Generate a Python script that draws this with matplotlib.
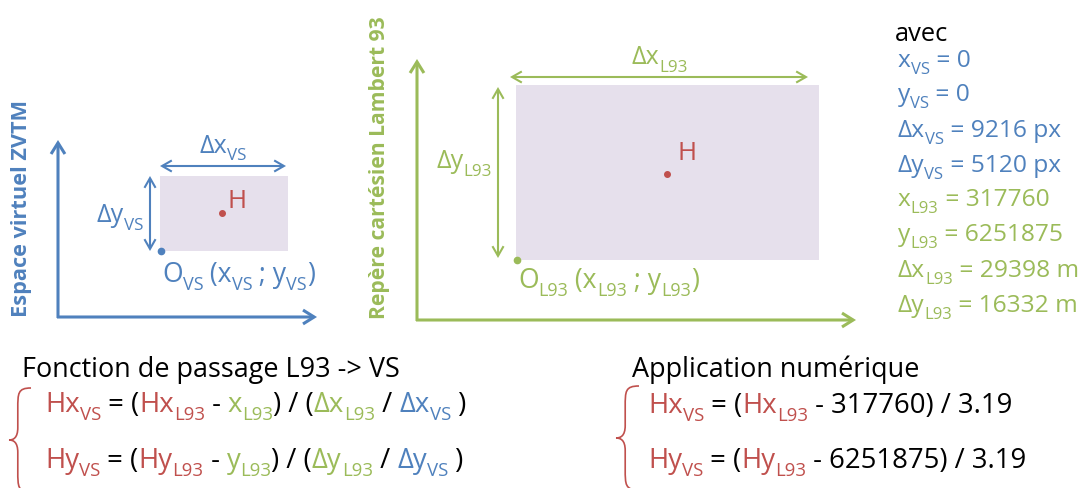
import matplotlib
matplotlib.use('Agg')
import matplotlib.pyplot as plt
from matplotlib.patches import FancyArrowPatch, Rectangle, PathPatch
from matplotlib.path import Path

# ---------------- data ----------------
vs_names = ['x', 'y', 'Δx', 'Δy']
vs_values = ['0', '0', '9216 px', '5120 px']
l93_names = ['x', 'y', 'Δx', 'Δy']
l93_values = ['317760', '6251875', '29398 m', '16332 m']
x_l93_origin = '317760'
y_l93_origin = '6251875'
scale_factor = '3.19'
vs_axis_title = 'Espace virtuel ZVTM'
l93_axis_title = 'Repère cartésien Lambert 93'
formula_title = 'Fonction de passage L93 -> VS'
numeric_title = 'Application numérique'

# ---------------- style ----------------
W, H = 1091, 489
FAM = ['Open Sans', 'DejaVu Sans']
BLUE = '#4F81BD'
GREEN = '#9BBB59'
RED = '#C0504D'
BLACK = '#000000'
FILL = '#E6E0EC'

fig = plt.figure(figsize=(W / 100, H / 100), dpi=100)
ax = fig.add_axes([0, 0, 1, 1])
ax.set_xlim(0, W)
ax.set_ylim(H, 0)
ax.axis('off')
renderer = fig.canvas.get_renderer()


def pt(p):
    return p * 0.72


def width_of(s, size, weight='normal'):
    t = ax.text(0, 0, '|' + s + '|', fontsize=size, family=FAM, fontweight=weight)
    w1 = t.get_window_extent(renderer).width
    t.set_text('||')
    w2 = t.get_window_extent(renderer).width
    t.remove()
    return w1 - w2


SUBR = 0.68
SUBOFF = 0.30


def rich_width(segs, fs):
    w = 0
    for s, c, sub in segs:
        w += width_of(s, pt(fs * SUBR if sub else fs))
    return w


def rich(x, y, segs, fs, ha='left'):
    if ha == 'center':
        x -= rich_width(segs, fs) / 2
    elif ha == 'right':
        x -= rich_width(segs, fs)
    for s, c, sub in segs:
        size = pt(fs * SUBR if sub else fs)
        yy = y + (fs * SUBOFF if sub else 0)
        ax.text(x, yy, s, color=c, fontsize=size, family=FAM, va='baseline', ha='left')
        x += width_of(s, size)
    return x


def arrow(p0, p1, color, style, lw, hl, hw):
    a = FancyArrowPatch(p0, p1, arrowstyle=f'{style},head_length={hl},head_width={hw}',
                        color=color, lw=lw, shrinkA=0, shrinkB=0, capstyle='butt',
                        joinstyle='miter')
    ax.add_patch(a)


def brace(xr, y0, y1, w, color):
    h = y1 - y0
    yc = (y0 + y1) / 2
    xm = xr - w * 0.6
    xt = xr - w
    verts = [(xr, y0),
             (xm, y0), (xm, y0 + 0.05 * h), (xm, y0 + 0.2 * h),
             (xm, yc - 0.12 * h),
             (xm, yc - 0.02 * h), (xt + 0.2 * w, yc), (xt, yc),
             (xt + 0.2 * w, yc), (xm, yc + 0.02 * h), (xm, yc + 0.12 * h),
             (xm, y1 - 0.2 * h),
             (xm, y1 - 0.05 * h), (xm, y1), (xr, y1)]
    codes = [Path.MOVETO,
             Path.CURVE4, Path.CURVE4, Path.CURVE4,
             Path.LINETO,
             Path.CURVE4, Path.CURVE4, Path.CURVE4,
             Path.CURVE4, Path.CURVE4, Path.CURVE4,
             Path.LINETO,
             Path.CURVE4, Path.CURVE4, Path.CURVE4]
    ax.add_patch(PathPatch(Path(verts, codes), fill=False, edgecolor=color, lw=1.2))


# ---------------- left diagram (VS) ----------------
ax.add_patch(Rectangle((160, 177), 128, 75, facecolor=FILL, edgecolor='none'))
arrow((58, 319), (58, 141), BLUE, '->', 2.2, 8, 5)
arrow((57, 318), (317, 318), BLUE, '->', 2.2, 8, 5)
arrow((160, 167), (286, 167), BLUE, '<->', 1.5, 7, 4)
arrow((150, 177), (150, 252), BLUE, '<->', 1.5, 7, 4)
ax.plot([161], [252], 'o', color=BLUE, ms=4.5)
ax.plot([222], [214], 'o', color=RED, ms=4)
ax.text(22, 208, vs_axis_title, rotation=90, ha='center', va='center',
        fontweight='bold', color=BLUE, fontsize=pt(21.8), family=FAM)
rich(223, 153, [('Δx', BLUE, False), ('VS', BLUE, True)], 25, ha='center')
rich(143, 222, [('Δy', BLUE, False), ('VS', BLUE, True)], 25, ha='right')
rich(228, 208, [('H', RED, False)], 26)
rich(162, 282, [('O', BLUE, False), ('VS', BLUE, True), (' (x', BLUE, False), ('VS', BLUE, True),
                (' ; y', BLUE, False), ('VS', BLUE, True), (')', BLUE, False)], 26.5)

# ---------------- right diagram (L93) ----------------
ax.add_patch(Rectangle((516, 86), 303, 175, facecolor=FILL, edgecolor='none'))
arrow((417, 322), (417, 60), GREEN, '->', 2.2, 8, 5)
arrow((416, 321), (856, 321), GREEN, '->', 2.2, 8, 5)
arrow((510, 78), (808, 78), GREEN, '<->', 1.5, 7, 4)
arrow((498, 88), (498, 259), GREEN, '<->', 1.5, 7, 4)
ax.plot([517], [261], 'o', color=GREEN, ms=4.5)
ax.plot([667], [175], 'o', color=RED, ms=4)
ax.text(380, 168, l93_axis_title, rotation=90, ha='center', va='center',
        fontweight='bold', color=GREEN, fontsize=pt(21.2), family=FAM)
rich(660, 64, [('Δx', GREEN, False), ('L93', GREEN, True)], 25, ha='center')
rich(492, 168, [('Δy', GREEN, False), ('L93', GREEN, True)], 25, ha='right')
rich(677, 160, [('H', RED, False)], 26)
rich(518, 288, [('O', GREEN, False), ('L93', GREEN, True), (' (x', GREEN, False), ('L93', GREEN, True),
                (' ; y', GREEN, False), ('L93', GREEN, True), (')', GREEN, False)], 26.5)

# ---------------- right list ----------------
ax.text(895, 41, 'avec', color=BLACK, fontsize=pt(25.5), family=FAM, va='baseline')
list_baselines = [67, 101, 137, 172, 206, 241, 277, 312]
rows = [(n, 'VS', v, BLUE) for n, v in zip(vs_names, vs_values)] + \
       [(n, 'L93', v, GREEN) for n, v in zip(l93_names, l93_values)]
for yb, (n, sub, v, c) in zip(list_baselines, rows):
    rich(898, yb, [(n, c, False), (sub, c, True), (' = ' + v, c, False)], 24.5)

# ---------------- bottom formulas ----------------
ax.text(22, 377, formula_title, color=BLACK, fontsize=pt(27), family=FAM, va='baseline')
brace(31, 389, 493, 22, RED)
rich(45, 412, [('Hx', RED, False), ('VS', RED, True), (' = (', BLACK, False),
               ('Hx', RED, False), ('L93', RED, True), (' - ', BLACK, False),
               ('x', GREEN, False), ('L93', GREEN, True), (') / (', BLACK, False),
               ('Δx', GREEN, False), ('L93', GREEN, True), (' / ', BLACK, False),
               ('Δx', BLUE, False), ('VS', BLUE, True), (' )', BLACK, False)], 27.5)
rich(45, 468, [('Hy', RED, False), ('VS', RED, True), (' = (', BLACK, False),
               ('Hy', RED, False), ('L93', RED, True), (' - ', BLACK, False),
               ('y', GREEN, False), ('L93', GREEN, True), (') / (', BLACK, False),
               ('Δy', GREEN, False), ('L93', GREEN, True), (' / ', BLACK, False),
               ('Δy', BLUE, False), ('VS', BLUE, True), (' )', BLACK, False)], 27.5)

ax.text(632, 377, numeric_title, color=BLACK, fontsize=pt(27), family=FAM, va='baseline')
brace(639, 387, 491, 23, RED)
rich(648, 413, [('Hx', RED, False), ('VS', RED, True), (' = (', BLACK, False),
                ('Hx', RED, False), ('L93', RED, True),
                (' - ' + x_l93_origin + ') / ' + scale_factor, BLACK, False)], 27.5)
rich(648, 468, [('Hy', RED, False), ('VS', RED, True), (' = (', BLACK, False),
                ('Hy', RED, False), ('L93', RED, True),
                (' - ' + y_l93_origin + ') / ' + scale_factor, BLACK, False)], 27.5)

fig.savefig('out.png', dpi=100)
